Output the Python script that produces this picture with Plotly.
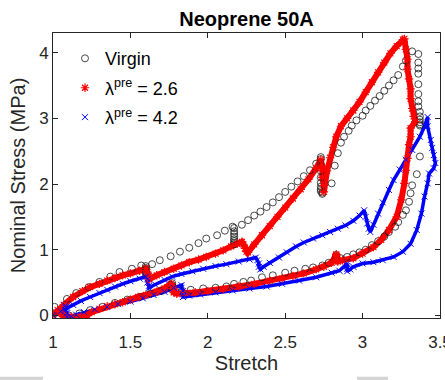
import plotly.graph_objects as go

# ---------------- data ----------------
virgin_x = [1.00, 1.01, 1.09, 1.15, 1.23, 1.30, 1.37, 1.43, 1.51, 1.57,
            1.60, 1.60, 1.60, 1.60, 1.60, 1.60, 1.60,
            1.64, 1.69, 1.76, 1.82, 1.88, 1.94, 1.99, 2.06, 2.11, 2.16,
            2.17, 2.17, 2.17, 2.17, 2.17, 2.17, 2.17, 2.17,
            2.22, 2.26, 2.30, 2.34, 2.38, 2.42, 2.46, 2.50, 2.54, 2.58, 2.62, 2.66, 2.70, 2.73,
            2.73, 2.73, 2.73, 2.73, 2.73, 2.73, 2.73, 2.73, 2.74, 2.74,
            2.80, 2.82, 2.84, 2.86, 2.88, 2.91, 2.93, 2.96, 3.00, 3.02, 3.05, 3.08, 3.11, 3.14,
            3.17, 3.20, 3.23, 3.26, 3.28, 3.32,
            3.36, 3.36, 3.36, 3.36, 3.36, 3.36, 3.36, 3.36, 3.37, 3.37, 3.37, 3.37, 3.37, 3.37,
            3.37, 3.35, 3.32, 3.31, 3.30, 3.28, 3.26, 3.23, 3.21, 3.17, 3.14, 3.10, 3.06, 3.02,
            2.98, 2.94, 2.90, 2.86,
            2.83, 2.83, 2.83, 2.83,
            2.78, 2.74, 2.68, 2.63, 2.56, 2.50, 2.42, 2.35, 2.28, 2.23, 2.17, 2.12, 2.05, 1.97,
            1.89, 1.83,
            1.77, 1.77, 1.77, 1.77,
            1.70, 1.63, 1.56, 1.48, 1.40, 1.32, 1.24, 1.17, 1.10, 1.07]
virgin_y = [0.00, 0.13, 0.25, 0.34, 0.43, 0.51, 0.59, 0.66, 0.71, 0.76,
            0.75, 0.72, 0.70, 0.68, 0.66, 0.65, 0.64,
            0.78, 0.84, 0.90, 0.97, 1.03, 1.10, 1.17, 1.22, 1.29, 1.35,
            1.33, 1.28, 1.24, 1.20, 1.16, 1.13, 1.10, 1.08,
            1.38, 1.45, 1.52, 1.58, 1.65, 1.72, 1.80, 1.88, 1.96, 2.04, 2.12, 2.21, 2.31, 2.41,
            2.38, 2.30, 2.20, 2.10, 2.02, 1.96, 1.92, 1.89, 1.87, 1.85,
            2.01, 2.28, 2.47, 2.63, 2.72, 2.81, 2.89, 2.97, 3.04, 3.12, 3.19, 3.27, 3.34, 3.42,
            3.50, 3.58, 3.66, 3.79, 3.88, 4.02,
            3.98, 3.85, 3.76, 3.68, 3.52, 3.37, 3.26, 3.18, 3.10, 3.03, 2.98, 2.94, 2.91, 2.89,
            2.42, 2.15, 1.98, 1.86, 1.73, 1.60, 1.53, 1.42, 1.35, 1.27, 1.20, 1.13, 1.07, 1.00,
            0.96, 0.93, 0.89, 0.87,
            0.86, 0.88, 0.90, 0.92,
            0.80, 0.76, 0.73, 0.71, 0.68, 0.65, 0.61, 0.58, 0.53, 0.51, 0.48, 0.44, 0.42, 0.41,
            0.39, 0.37,
            0.40, 0.43, 0.46, 0.49,
            0.37, 0.33, 0.28, 0.24, 0.19, 0.13, 0.08, 0.03, 0.00, 0.00]

pre26_x = [1.00, 1.03, 1.07, 1.13, 1.19, 1.24, 1.30, 1.35, 1.40, 1.45, 1.50, 1.56, 1.60,
           1.61, 1.62, 1.62,
           1.67, 1.72, 1.78, 1.83, 1.88, 1.94, 1.99, 2.05, 2.10, 2.15, 2.19, 2.22,
           2.23, 2.24, 2.25, 2.26,
           2.30, 2.35, 2.40, 2.45, 2.50, 2.55, 2.60, 2.65, 2.70, 2.73,
           2.74, 2.74, 2.75, 2.75,
           2.77, 2.79, 2.81, 2.83, 2.86, 2.90, 2.94, 2.98, 3.02, 3.06, 3.10, 3.14, 3.18, 3.22,
           3.26, 3.27,
           3.28, 3.29, 3.29, 3.30, 3.31, 3.31, 3.32, 3.33, 3.34,
           3.31, 3.31, 3.30, 3.29, 3.28, 3.27, 3.25, 3.22, 3.17, 3.12, 3.07, 3.00, 2.94, 2.87,
           2.84,
           2.83, 2.83, 2.83, 2.83,
           2.80, 2.75, 2.70, 2.62, 2.55, 2.48, 2.40, 2.30, 2.20, 2.10, 2.00, 1.92, 1.85, 1.80,
           1.78, 1.78, 1.77, 1.76,
           1.72, 1.67, 1.60, 1.55, 1.50, 1.45, 1.40, 1.35, 1.30, 1.25, 1.22, 1.18, 1.12, 1.08,
           1.07, 1.07, 1.06, 1.05]
pre26_y = [0.00, 0.08, 0.16, 0.28, 0.37, 0.43, 0.48, 0.53, 0.57, 0.61, 0.64, 0.68, 0.71,
           0.66, 0.60, 0.55,
           0.61, 0.66, 0.71, 0.76, 0.81, 0.85, 0.89, 0.94, 0.99, 1.05, 1.09, 1.12,
           1.08, 1.02, 0.97, 0.96,
           1.08, 1.22, 1.36, 1.50, 1.64, 1.78, 1.92, 2.07, 2.24, 2.37,
           2.25, 2.10, 1.98, 1.88,
           2.20, 2.40, 2.56, 2.72, 2.88, 3.00, 3.12, 3.25, 3.40, 3.55, 3.70, 3.85, 3.99, 4.10,
           4.20, 4.21,
           4.05, 3.90, 3.75, 3.60, 3.45, 3.30, 3.15, 3.03, 2.95,
           2.85, 2.72, 2.60, 2.39, 2.21, 2.01, 1.76, 1.50, 1.30, 1.15, 1.04, 0.94, 0.87, 0.84,
           0.82,
           0.85, 0.88, 0.91, 0.93,
           0.80, 0.74, 0.70, 0.64, 0.60, 0.56, 0.53, 0.48, 0.44, 0.40, 0.37, 0.35, 0.34, 0.33,
           0.35, 0.40, 0.45, 0.48,
           0.41, 0.36, 0.31, 0.28, 0.24, 0.20, 0.17, 0.14, 0.10, 0.05, 0.00, -0.02, -0.02, -0.03,
           -0.02, 0.00, 0.02, 0.03]

pre42_x = [1.00, 1.05, 1.09, 1.13, 1.18, 1.24, 1.30, 1.35, 1.40, 1.45, 1.50, 1.56, 1.60,
           1.61, 1.61, 1.62, 1.62,
           1.66, 1.72, 1.77, 1.83, 1.90, 1.97, 2.05, 2.12, 2.20, 2.27, 2.31,
           2.32, 2.33, 2.33, 2.34,
           2.36, 2.40, 2.46, 2.51, 2.57, 2.62, 2.68, 2.74, 2.79, 2.84, 2.89, 2.94, 2.98, 3.01,
           3.02, 3.03, 3.04, 3.05,
           3.07, 3.10, 3.13, 3.17, 3.20, 3.24, 3.28, 3.32, 3.37, 3.40, 3.42,
           3.42, 3.44, 3.45, 3.46, 3.47,
           3.46, 3.43, 3.42, 3.40, 3.38, 3.35, 3.31, 3.26, 3.20, 3.13, 3.07, 3.00, 2.94, 2.92,
           2.90, 2.90, 2.90, 2.90,
           2.85, 2.80, 2.70, 2.59, 2.48, 2.38, 2.27, 2.16, 2.05, 1.95, 1.88, 1.84,
           1.84, 1.84, 1.83, 1.83,
           1.78, 1.72, 1.65, 1.58, 1.50, 1.42, 1.35, 1.27, 1.20, 1.15, 1.12, 1.10,
           1.09, 1.09, 1.08, 1.08, 1.08]
pre42_y = [0.00, 0.06, 0.12, 0.16, 0.22, 0.28, 0.34, 0.39, 0.44, 0.48, 0.52, 0.56, 0.59,
           0.55, 0.50, 0.45, 0.42,
           0.47, 0.54, 0.59, 0.63, 0.67, 0.71, 0.75, 0.78, 0.82, 0.85, 0.88,
           0.84, 0.79, 0.74, 0.70,
           0.74, 0.80, 0.88, 0.96, 1.05, 1.11, 1.17, 1.22, 1.27, 1.32, 1.37, 1.44, 1.52, 1.60,
           1.50, 1.40, 1.32, 1.27,
           1.38, 1.55, 1.72, 1.91, 2.06, 2.22, 2.37, 2.52, 2.72, 2.88, 3.02,
           2.88, 2.67, 2.55, 2.44, 2.32,
           2.24, 2.16, 2.01, 1.81, 1.55, 1.30, 1.09, 0.97, 0.89, 0.84, 0.81, 0.79, 0.74, 0.70,
           0.67, 0.71, 0.75, 0.79,
           0.68, 0.65, 0.58, 0.53, 0.48, 0.44, 0.41, 0.38, 0.35, 0.32, 0.30, 0.28,
           0.32, 0.37, 0.42, 0.46,
           0.42, 0.36, 0.31, 0.26, 0.21, 0.17, 0.13, 0.09, 0.05, 0.01, -0.02, -0.04,
           -0.02, 0.03, 0.08, 0.12, 0.15]

series_names = ["Virgin", "λ<sup>pre</sup> = 2.6", "λ<sup>pre</sup> = 4.2"]
x_ticks = [1, 1.5, 2, 2.5, 3, 3.5]
x_tick_labels = ["1", "1.5", "2", "2.5", "3", "3.5"]
y_ticks = [0, 1, 2, 3, 4]
y_tick_labels = ["0", "1", "2", "3", "4"]

# ---------------- figure ----------------
RED = "#ff0000"
BLUE = "#0000ff"
FONT = "Liberation Sans, Arial, sans-serif"
AX = "#262626"

fig = go.Figure()

# dense bands (the reference markers are packed into thick bands)
fig.add_trace(go.Scatter(x=pre42_x, y=pre42_y, mode="lines", legendgroup="g3",
                         line=dict(color=BLUE, width=3.5), showlegend=False,
                         hoverinfo="skip"))
fig.add_trace(go.Scatter(x=pre26_x, y=pre26_y, mode="lines", legendgroup="g2",
                         line=dict(color=RED, width=6), showlegend=False,
                         hoverinfo="skip"))

fig.add_trace(go.Scatter(x=virgin_x, y=virgin_y, mode="markers", name=series_names[0],
                         legendgroup="g1", legendrank=1,
                         marker=dict(symbol="circle-open", size=7, color="#1a1a1a",
                                     line=dict(width=0.8, color="#1a1a1a"))))
fig.add_trace(go.Scatter(x=pre26_x, y=pre26_y, mode="markers", name=series_names[1],
                         legendgroup="g2", legendrank=2,
                         marker=dict(symbol="asterisk-open", size=7, color=RED,
                                     line=dict(width=1.2, color=RED))))
fig.add_trace(go.Scatter(x=pre42_x, y=pre42_y, mode="markers", name=series_names[2],
                         legendgroup="g3", legendrank=3,
                         marker=dict(symbol="x-thin-open", size=6, color=BLUE,
                                     line=dict(width=1, color=BLUE))))

axis_common = dict(showgrid=False, zeroline=False, showline=True, linecolor=AX,
                   linewidth=1, mirror="ticks", ticks="inside", ticklen=5,
                   tickcolor=AX, tickwidth=1, automargin=False,
                   tickfont=dict(family=FONT, size=17, color=AX))

fig.update_layout(
    width=445, height=380,
    margin=dict(l=53, r=5, t=33, b=62),
    paper_bgcolor="white", plot_bgcolor="white",
    title=dict(text="<b>Neoprene 50A</b>", x=0.5, xref="paper", xanchor="center",
               y=1 - 19 / 380, yanchor="middle",
               font=dict(family=FONT, size=20, color="#000000")),
    xaxis=dict(range=[1, 3.5], tickvals=x_ticks, ticktext=x_tick_labels,
               ticklabelstandoff=9, ticklabeloverflow="allow",
               title=dict(text="Stretch", font=dict(family=FONT, size=20, color=AX),
                          standoff=4),
               **axis_common),
    yaxis=dict(range=[-0.04, 4.3], tickvals=y_ticks, ticktext=y_tick_labels,
               title=dict(text="Nominal Stress (MPa)",
                          font=dict(family=FONT, size=20, color=AX), standoff=8),
               **axis_common),
    legend=dict(x=0.031, y=0.975, xanchor="left", yanchor="top",
                bgcolor="rgba(0,0,0,0)", borderwidth=0, itemwidth=30,
                font=dict(family=FONT, size=18, color="#000000"),
                tracegroupgap=3),
    showlegend=True,
    shapes=[
        dict(type="rect", xref="paper", yref="paper", x0=-0.137, x1=-0.026,
             y0=-0.221, y1=-0.206, fillcolor="#d4d4d4", line=dict(width=0)),
        dict(type="rect", xref="paper", yref="paper", x0=0.7855, x1=0.8656,
             y0=-0.221, y1=-0.206, fillcolor="#d4d4d4", line=dict(width=0)),
    ],
)

fig.write_html("out.html")
